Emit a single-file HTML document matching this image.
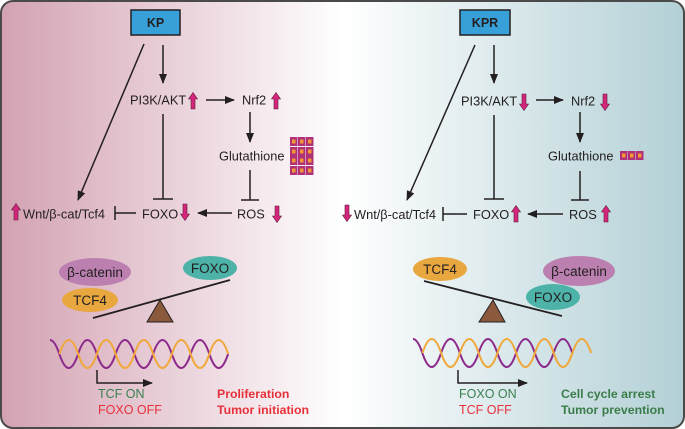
<!DOCTYPE html>
<html><head><meta charset="utf-8"><style>
html,body{margin:0;padding:0;background:#fff}
svg{display:block}
text{font-family:"Liberation Sans",sans-serif;fill:#231f20}
</style></head><body>
<svg width="685" height="429" viewBox="0 0 685 429" xmlns="http://www.w3.org/2000/svg">
<defs>
<linearGradient id="bg" x1="0" x2="1" y1="0" y2="0">
<stop offset="0" stop-color="#d3a2b2"/>
<stop offset="0.5" stop-color="#ffffff"/>
<stop offset="1" stop-color="#b3d0d6"/>
</linearGradient>
<marker id="ah" markerWidth="10" markerHeight="8" refX="9" refY="4" orient="auto" markerUnits="userSpaceOnUse">
<path d="M0,0 L10,4 L0,8 Z" fill="#231f20"/>
</marker>
<g id="up"><path d="M-2,8 L-2,-2 L-4.5,-2 L0,-8.5 L4.5,-2 L2,-2 L2,8 Z" fill="#d6267b" stroke="#5a1a3a" stroke-width="0.6"/></g>
<g id="dn"><path d="M-2,-8 L-2,2 L-4.5,2 L0,8.5 L4.5,2 L2,2 L2,-8 Z" fill="#d6267b" stroke="#5a1a3a" stroke-width="0.6"/></g>
<g id="sq"><rect x="0" y="0" width="7.5" height="9" fill="#b0307a"/><rect x="2" y="2.5" width="3.5" height="4" fill="#f29a30"/></g>
<clipPath id="cl"><rect x="50" y="320" width="200" height="60"/></clipPath>
<clipPath id="cr"><rect x="413" y="320" width="200" height="60"/></clipPath>
</defs>
<rect x="1" y="1" width="683" height="427" rx="12" fill="url(#bg)" stroke="#4a4a4a" stroke-width="2"/>

<g stroke="#231f20" stroke-width="1.5" fill="none">
<line x1="163" y1="45" x2="163" y2="83" marker-end="url(#ah)"/>
<line x1="144" y1="44" x2="78" y2="200" marker-end="url(#ah)"/>
<line x1="206" y1="100" x2="234" y2="100" marker-end="url(#ah)"/>
<line x1="250" y1="112" x2="250" y2="142" marker-end="url(#ah)"/>
<line x1="250" y1="170" x2="250" y2="200"/><line x1="241" y1="200" x2="259" y2="200"/>
<line x1="232" y1="213" x2="198" y2="213" marker-end="url(#ah)"/>
<line x1="163" y1="114" x2="163" y2="199"/><line x1="153" y1="199" x2="173" y2="199"/>
<line x1="136" y1="213" x2="115" y2="213"/><line x1="115" y1="206" x2="115" y2="220"/>
<line x1="494" y1="45" x2="494" y2="83" marker-end="url(#ah)"/>
<line x1="475" y1="45" x2="407" y2="200" marker-end="url(#ah)"/>
<line x1="536" y1="100" x2="563" y2="100" marker-end="url(#ah)"/>
<line x1="580" y1="112" x2="580" y2="142" marker-end="url(#ah)"/>
<line x1="580" y1="171" x2="580" y2="200"/><line x1="571" y1="200" x2="589" y2="200"/>
<line x1="563" y1="214" x2="528" y2="214" marker-end="url(#ah)"/>
<line x1="494" y1="115" x2="494" y2="199"/><line x1="484" y1="199" x2="504" y2="199"/>
<line x1="467" y1="214" x2="443" y2="214"/><line x1="443" y1="207" x2="443" y2="221"/>
</g>

<rect x="131" y="10" width="49" height="25" fill="#38a0d8" stroke="#231f20" stroke-width="1.5"/>
<text x="155.5" y="27" font-size="12.5" font-weight="bold" text-anchor="middle">KP</text>
<rect x="460" y="10" width="50" height="25" fill="#38a0d8" stroke="#231f20" stroke-width="1.5"/>
<text x="485" y="27" font-size="12.5" font-weight="bold" text-anchor="middle">KPR</text>

<g font-size="12.8">
<text x="130" y="104.5">PI3K/AKT</text>
<text x="242" y="104.5">Nrf2</text>
<text x="219" y="160.5">Glutathione</text>
<text x="237" y="218.5">ROS</text>
<text x="142" y="218.5">FOXO</text>
<text x="23" y="218.5">Wnt/β-cat/Tcf4</text>
<text x="461" y="105.5">PI3K/AKT</text>
<text x="571" y="105.5">Nrf2</text>
<text x="548" y="160.5">Glutathione</text>
<text x="569" y="219">ROS</text>
<text x="473" y="219">FOXO</text>
<text x="354" y="219">Wnt/β-cat/Tcf4</text>
</g>
<use href="#up" x="193" y="101"/><use href="#up" x="276" y="101"/>
<use href="#dn" x="185" y="212"/><use href="#dn" x="277" y="214"/><use href="#up" x="16" y="212"/>
<use href="#dn" x="524" y="102"/><use href="#dn" x="605" y="102"/>
<use href="#up" x="516" y="214"/><use href="#up" x="606" y="214"/><use href="#dn" x="347" y="213"/>

<g>
<use href="#sq" x="290" y="137"/><use href="#sq" x="298" y="137"/><use href="#sq" x="306" y="137"/>
<use href="#sq" x="290" y="147"/><use href="#sq" x="298" y="147"/><use href="#sq" x="306" y="147"/>
<use href="#sq" x="290" y="156"/><use href="#sq" x="298" y="156"/><use href="#sq" x="306" y="156"/>
<use href="#sq" x="290" y="166"/><use href="#sq" x="298" y="166"/><use href="#sq" x="306" y="166"/>
<use href="#sq" x="620" y="151"/><use href="#sq" x="628" y="151"/><use href="#sq" x="636" y="151"/>
</g>

<ellipse cx="95" cy="272" rx="36" ry="14" fill="#bb80b0"/>
<text x="95" y="277" font-size="13.5" text-anchor="middle">β-catenin</text>
<ellipse cx="90" cy="300" rx="28" ry="12" fill="#e8a83f"/>
<text x="90" y="305" font-size="13.5" text-anchor="middle">TCF4</text>
<ellipse cx="210" cy="268" rx="27" ry="12" fill="#4db3a8"/>
<text x="210" y="273" font-size="13.5" text-anchor="middle">FOXO</text>
<line x1="93" y1="318" x2="230" y2="280" stroke="#231f20" stroke-width="1.8"/>
<path d="M160,300 L147,322 L173,322 Z" fill="#8b5a3c" stroke="#231f20" stroke-width="1"/>

<ellipse cx="440" cy="269" rx="27" ry="12" fill="#e8a83f"/>
<text x="440" y="274" font-size="13.5" text-anchor="middle">TCF4</text>
<ellipse cx="579" cy="271" rx="36" ry="15" fill="#bb80b0"/>
<text x="579" y="276" font-size="13.5" text-anchor="middle">β-catenin</text>
<ellipse cx="553" cy="297" rx="27" ry="13" fill="#4db3a8"/>
<text x="553" y="302" font-size="13.5" text-anchor="middle">FOXO</text>
<line x1="424" y1="281" x2="562" y2="316" stroke="#231f20" stroke-width="1.8"/>
<path d="M493,300 L479,322 L505,322 Z" fill="#8b5a3c" stroke="#231f20" stroke-width="1"/>

<g fill="none" stroke-width="2">
<g clip-path="url(#cl)">
<path stroke="#8c2a8c" d="M40.6,354 q9.375,-28 18.75,0 t18.75,0 t18.75,0 t18.75,0 t18.75,0 t18.75,0 t18.75,0 t18.75,0 t18.75,0 t18.75,0"/>
<path stroke="#f0a83a" d="M59.4,354 q9.375,-28 18.75,0 t18.75,0 t18.75,0 t18.75,0 t18.75,0 t18.75,0 t18.75,0 t18.75,0 t18.75,0"/>
</g>
<g clip-path="url(#cr)">
<path stroke="#8c2a8c" d="M403.6,353 q9.375,-28 18.75,0 t18.75,0 t18.75,0 t18.75,0 t18.75,0 t18.75,0 t18.75,0 t18.75,0 t18.75,0"/>
<path stroke="#f0a83a" d="M422.4,353 q9.375,-28 18.75,0 t18.75,0 t18.75,0 t18.75,0 t18.75,0 t18.75,0 t18.75,0 t18.75,0 t18.75,0"/>
</g>
</g>
<g stroke="#231f20" stroke-width="1.5" fill="none">
<path d="M97,370 L97,383 L152,383" marker-end="url(#ah)"/>
<path d="M458,370 L458,383 L527,383" marker-end="url(#ah)"/>
</g>
<g font-size="12.5">
<text x="98" y="398" style="fill:#3a8050">TCF ON</text>
<text x="98" y="414" style="fill:#e8303a">FOXO OFF</text>
<text x="459" y="398" style="fill:#3a8050">FOXO ON</text>
<text x="459" y="414" style="fill:#e8303a">TCF OFF</text>
</g>
<g font-size="12.3" font-weight="bold">
<text x="217" y="398" style="fill:#e8303a">Proliferation</text>
<text x="217" y="414" style="fill:#e8303a">Tumor initiation</text>
<text x="561" y="398" style="fill:#3a7d4a">Cell cycle arrest</text>
<text x="561" y="414" style="fill:#3a7d4a">Tumor prevention</text>
</g>
</svg>
</body></html>
